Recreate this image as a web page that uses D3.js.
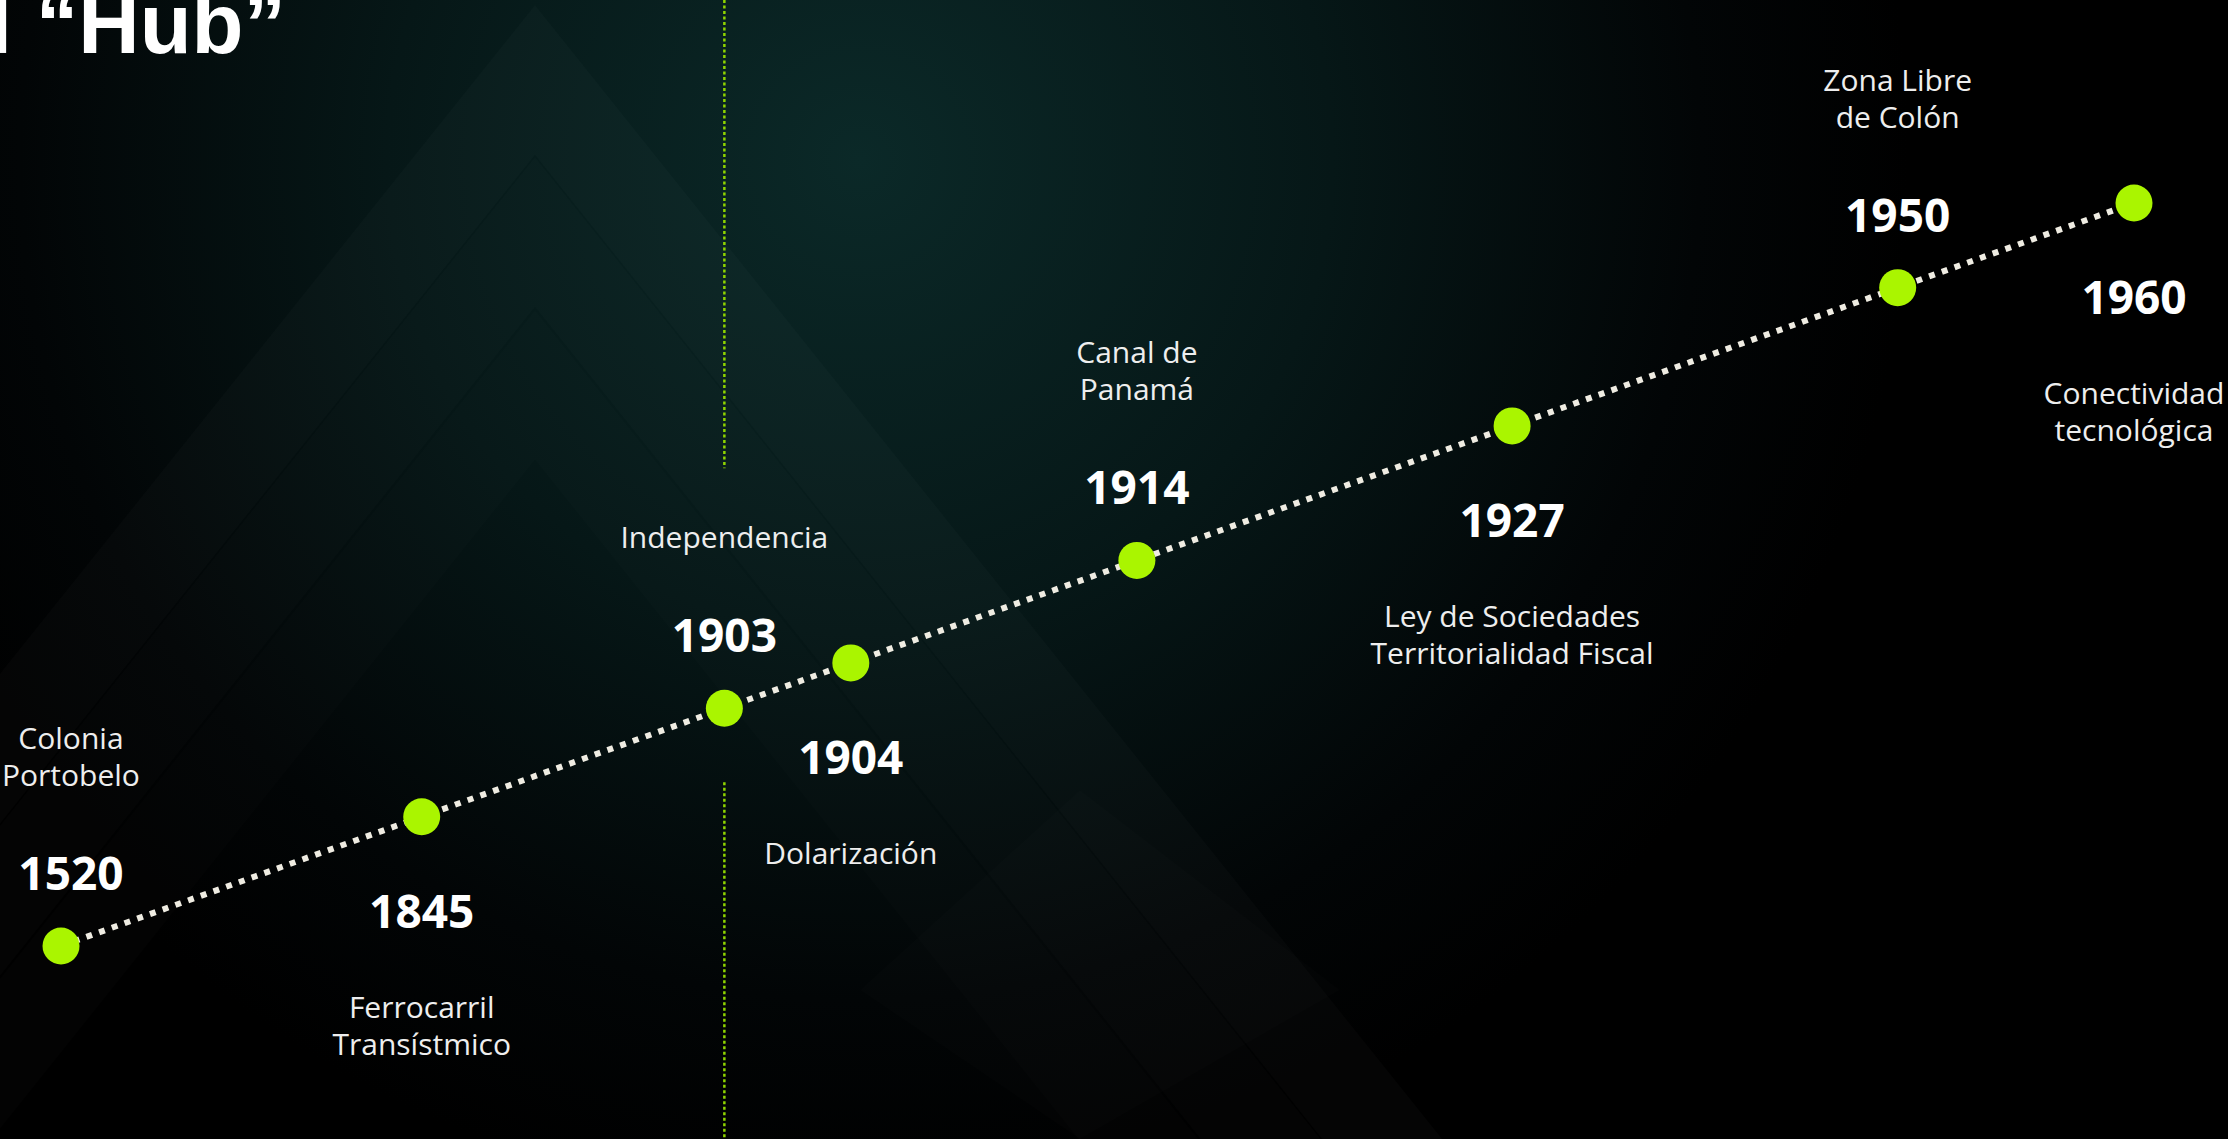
<!DOCTYPE html>
<html>
<head>
<meta charset="utf-8">
<script src="https://cdn.jsdelivr.net/npm/d3@7"></script>
<style>
  body { margin: 0; background: #000; overflow: hidden; }
  .title { font-family: "Liberation Sans", Arial, sans-serif; font-weight: 700; font-size: 85px; fill: #fff; }
  .year { font-family: "Open Sans", "Noto Sans", sans-serif; font-weight: 700; font-size: 46px; fill: #fff; text-anchor: middle; }
  .desc { font-family: "Open Sans", "Noto Sans", sans-serif; font-size: 30px; fill: #eeeeee; text-anchor: middle; }
</style>
</head>
<body>
<div class="app"></div>
<script>
'use strict'

var width = 2228;
var height = 1139;

// hitos de la línea de tiempo
var years = ["1520", "1845", "1903", "1904", "1914", "1927", "1950", "1960"];
// avance de cada hito sobre la línea (0 = inicio, 100 = fin)
var progress = [0, 17.4, 32.0, 38.1, 51.9, 70.0, 88.6, 100];
var labels = [
  ["Colonia", "Portobelo"],
  ["Ferrocarril", "Transístmico"],
  ["Independencia"],
  ["Dolarización"],
  ["Canal de", "Panamá"],
  ["Ley de Sociedades", "Territorialidad Fiscal"],
  ["Zona Libre", "de Colón"],
  ["Conectividad", "tecnológica"]
];
var title = "l \u201CHub\u201D";

var data = years.map(function(d, i) {
  return {year: d, p: progress[i], label: labels[i], up: i % 2 === 0};
});

var svg = d3.select(".app")
  .append("svg")
  .attr("width", width)
  .attr("height", height);

// fondo
var defs = svg.append("defs");
var glow = defs.append("radialGradient")
  .attr("id", "glow")
  .attr("gradientUnits", "userSpaceOnUse")
  .attr("cx", 860).attr("cy", 160).attr("r", 1050);
glow.append("stop").attr("offset", 0).attr("stop-color", "#0b2928");
glow.append("stop").attr("offset", 0.45).attr("stop-color", "#061717");
glow.append("stop").attr("offset", 0.8).attr("stop-color", "#020506");
glow.append("stop").attr("offset", 1).attr("stop-color", "#000");

svg.append("rect")
  .attr("width", width).attr("height", height)
  .attr("fill", "#000");
svg.append("rect")
  .attr("width", width).attr("height", height)
  .attr("fill", "url(#glow)");

// chevrones decorativos (muy tenues)
function chevron(ax, ay, t, s, yEnd) {
  var a = (yEnd - ay) / s, b = (yEnd - ay - t) / s;
  return "M" + (ax - a) + "," + yEnd + "L" + ax + "," + ay + "L" + (ax + a) + "," + yEnd +
         "L" + (ax + b) + "," + yEnd + "L" + ax + "," + (ay + t) + "L" + (ax - b) + "," + yEnd + "Z";
}
var deco = svg.append("g");
[[535, 5, 150, 0.018], [535, 157, 150, 0.014], [535, 310, 150, 0.012]].forEach(function(c) {
  deco.append("path")
    .attr("d", chevron(c[0], c[1], c[2], 1.25, 1500))
    .attr("fill", "#ffffff")
    .attr("fill-opacity", c[3]);
});
deco.append("path")
  .attr("d", "M1080,790L1340,990L1080,1139L860,990Z")
  .attr("fill", "#ffffff")
  .attr("fill-opacity", 0.012);

// escalas
var scaleX = d3.scaleLinear().domain([0, 100]).range([61, 2134]);
var scaleY = d3.scaleLinear().domain([0, 100]).range([946, 203]);

// línea vertical punteada en la Independencia
var split = data[2];
var sx = scaleX(split.p), sy = scaleY(split.p);
svg.append("line")
  .attr("x1", sx).attr("x2", sx).attr("y1", 0).attr("y2", sy - 240)
  .attr("stroke", "#8fd400").attr("stroke-width", 2.5).attr("stroke-dasharray", "3 2.5");
svg.append("line")
  .attr("x1", sx).attr("x2", sx).attr("y1", sy + 74).attr("y2", height)
  .attr("stroke", "#8fd400").attr("stroke-width", 2.5).attr("stroke-dasharray", "3 2.5");

// línea de tiempo
var line = d3.line()
  .x(function(d) { return scaleX(d.p); })
  .y(function(d) { return scaleY(d.p); });

svg.append("path")
  .attr("d", line(data))
  .attr("fill", "none")
  .attr("stroke", "#efece2")
  .attr("stroke-width", 6)
  .attr("stroke-dasharray", "6 7.5");

svg.selectAll("circle.dot")
  .data(data)
  .enter().append("circle")
  .attr("class", "dot")
  .attr("cx", function(d) { return scaleX(d.p); })
  .attr("cy", function(d) { return scaleY(d.p); })
  .attr("r", 18.5)
  .attr("fill", "#aaf500");

// textos
var lineH = 37;
var g = svg.selectAll("g.milestone")
  .data(data)
  .enter().append("g")
  .attr("class", "milestone");

g.append("text")
  .attr("class", "year")
  .attr("x", function(d) { return scaleX(d.p); })
  .attr("y", function(d) { return scaleY(d.p) + (d.up ? -56 : 111); })
  .text(function(d) { return d.year; });

var desc = g.append("text")
  .attr("class", "desc")
  .attr("x", function(d) { return scaleX(d.p); });

desc.selectAll("tspan")
  .data(function(d) {
    var n = d.label.length;
    var y0 = d.up ? scaleY(d.p) - 160 - (n - 1) * lineH : scaleY(d.p) + 201;
    return d.label.map(function(t, k) { return {t: t, y: y0 + k * lineH}; });
  })
  .enter().append("tspan")
  .attr("y", function(d) { return d.y; })
  .text(function(d) { return d.t; });

// que los textos no se salgan por la izquierda: se centra todo el hito
g.each(function(d) {
  var grp = d3.select(this);
  var w = grp.select("text.year").node().getComputedTextLength();
  grp.selectAll("tspan").each(function() { w = Math.max(w, this.getComputedTextLength()); });
  var x = Math.max(scaleX(d.p), w / 2 + 2);
  grp.select("text.year").attr("x", x);
  grp.select("text.desc").attr("x", x);
  grp.selectAll("tspan").attr("x", x);
});

// título (cortado por el borde, como en la lámina)
svg.append("text")
  .attr("class", "title")
  .attr("x", 286)
  .attr("y", 53)
  .attr("text-anchor", "end")
  .text(title);
</script>
</body>
</html>
